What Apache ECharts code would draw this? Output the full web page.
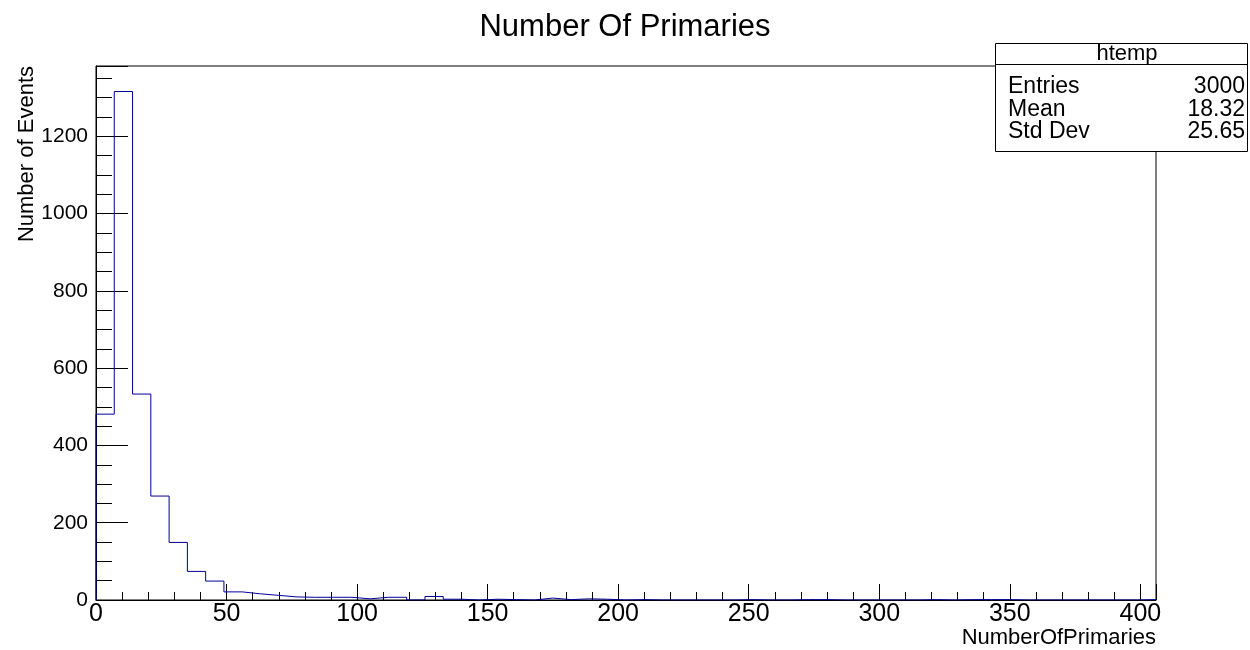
<!DOCTYPE html>
<html>
<head>
<meta charset="utf-8">
<title>Number Of Primaries</title>
<script src="https://cdn.jsdelivr.net/npm/echarts@6/dist/echarts.min.js"></script>
<style>
  html, body { margin: 0; padding: 0; background: #fff; }
  #chart { width: 1250px; height: 650px; }
</style>
</head>
<body>
<div id="chart"></div>
<script>
// Histogram binning (58 bins of width 7 over [0, 406))
const binWidth = 7;
const xMin = 0;
const xMax = 406;
const yMax = 1382;

// Events per bin
const counts = [
  481, 1316, 533, 269, 149, 74, 49, 21, 16, 12,
  8, 7, 7, 7, 3, 7, 7, 0, 9, 2,
  0, 2, 1, 0, 5, 1, 3, 2, 0, 1,
  0, 0, 0, 0, 0, 1, 0, 0, 1, 1,
  0, 0, 0, 0, 0, 1, 0, 1, 1, 1,
  0, 0, 0, 0, 0, 0, 0, 1
];

// Statistics box
const statsTitle = 'htemp';
const statsNames = ['Entries', 'Mean', 'Std Dev'];
const statsValues = ['3000', '18.32', '25.65'];

const chartTitle = 'Number Of Primaries';
const xTitle = 'NumberOfPrimaries';
const yTitle = 'Number of Events';

const FONT = '"Liberation Sans", Arial, Helvetica, sans-serif';

// Step outline: starts on the axis, then each bin's lower edge with its count,
// closed at the upper edge of the last bin
const outline = [[xMin, 0]].concat(counts.map((c, i) => [xMin + i * binWidth, c]));
outline.push([xMax, counts[counts.length - 1]]);

const chart = echarts.init(document.getElementById('chart'), null, { renderer: 'canvas' });

const G = { left: 96, right: 94, top: 66, bottom: 50 };

const statsGraphics = [];
const boxL = 995.5, boxR = 1247.5, boxT = 43.5, boxB = 151.5, headB = 64.5;
const statsFont = '23px ' + FONT;
statsGraphics.push({
  type: 'rect', z: 100,
  shape: { x: boxL, y: boxT, width: boxR - boxL, height: boxB - boxT },
  style: { fill: '#fff', stroke: '#000', lineWidth: 1 }
});
statsGraphics.push({
  type: 'line', z: 101,
  shape: { x1: boxL, y1: headB, x2: boxR, y2: headB },
  style: { stroke: '#000', lineWidth: 1 }
});
statsGraphics.push({
  type: 'text', z: 101, x: 1127, y: 54,
  style: { text: statsTitle, font: '22px ' + FONT, fill: '#000', textAlign: 'center', textVerticalAlign: 'middle' }
});
statsNames.forEach((name, i) => {
  const cy = 87 + i * 22.4;
  statsGraphics.push({
    type: 'text', z: 101, x: 1008, y: cy,
    style: { text: name, font: statsFont, fill: '#000', textAlign: 'left', textVerticalAlign: 'middle' }
  });
  statsGraphics.push({
    type: 'text', z: 101, x: 1245, y: cy,
    style: { text: statsValues[i], font: statsFont, fill: '#000', textAlign: 'right', textVerticalAlign: 'middle' }
  });
});

const option = {
  animation: false,
  backgroundColor: '#fff',
  title: {
    text: chartTitle,
    left: 'center',
    top: 7,
    textStyle: { fontSize: 31, fontWeight: 'normal', fontFamily: FONT, color: '#000' }
  },
  grid: {
    left: G.left, right: G.right, top: G.top, bottom: G.bottom,
    show: true, borderColor: '#000', borderWidth: 1, backgroundColor: 'transparent',
    containLabel: false
  },
  xAxis: [
    {
      type: 'value', min: xMin, max: xMax, interval: 50, position: 'bottom',
      axisLine: { show: true, onZero: false, lineStyle: { color: '#000', width: 1 } },
      axisTick: { show: true, inside: true, length: 16, lineStyle: { color: '#000', width: 1 } },
      axisLabel: {
        show: true, margin: 2, fontSize: 25, fontFamily: FONT, color: '#000',
        formatter: v => (v % 50 === 0 ? String(v) : '')
      },
      splitLine: { show: false }
    },
    {
      type: 'value', min: xMin, max: xMax, interval: 10, position: 'bottom',
      axisLine: { show: false, onZero: false },
      axisTick: { show: true, inside: true, length: 8, lineStyle: { color: '#000', width: 1 } },
      axisLabel: { show: false },
      splitLine: { show: false }
    }
  ],
  yAxis: [
    {
      type: 'value', min: 0, max: yMax, interval: 200, position: 'left',
      axisLine: { show: true, onZero: false, lineStyle: { color: '#000', width: 1 } },
      axisTick: { show: true, inside: true, length: 32, lineStyle: { color: '#000', width: 1 } },
      axisLabel: {
        show: true, margin: 8, fontSize: 21, fontFamily: FONT, color: '#000',
        formatter: v => (v % 200 === 0 ? String(v) : '')
      },
      splitLine: { show: false }
    },
    {
      type: 'value', min: 0, max: yMax, interval: 50, position: 'left',
      axisLine: { show: false, onZero: false },
      axisTick: { show: true, inside: true, length: 16, lineStyle: { color: '#000', width: 1 } },
      axisLabel: { show: false },
      splitLine: { show: false }
    }
  ],
  series: [
    {
      type: 'line',
      xAxisIndex: 0,
      yAxisIndex: 0,
      step: 'end',
      data: outline,
      symbol: 'none',
      silent: true,
      clip: true,
      lineStyle: { color: '#000099', width: 1 },
      z: 3
    }
  ],
  graphic: [
    {
      type: 'text', z: 50, x: 27, y: G.top, rotation: Math.PI / 2,
      style: { text: yTitle, font: '22px ' + FONT, fill: '#000', textAlign: 'right', textVerticalAlign: 'middle' }
    },
    {
      type: 'text', z: 50, x: 1156, y: 638,
      style: { text: xTitle, font: '22px ' + FONT, fill: '#000', textAlign: 'right', textVerticalAlign: 'middle' }
    }
  ].concat(statsGraphics)
};

chart.setOption(option);
</script>
</body>
</html>
